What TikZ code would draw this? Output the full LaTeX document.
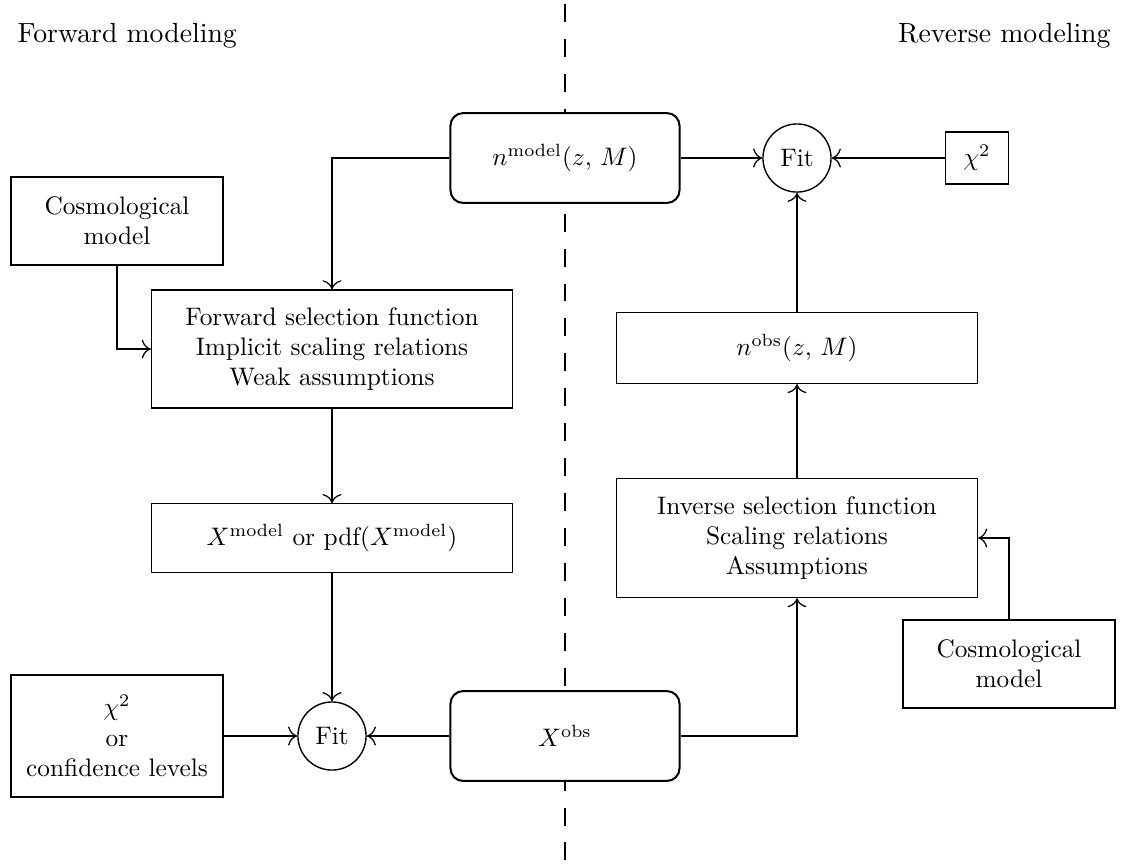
\documentclass[tikz,border=0pt]{standalone}
\usetikzlibrary{arrows.meta}
\begin{document}
\begin{tikzpicture}[x=0.395pt,y=-0.395pt,
  box/.style={draw, line width=0.5pt, fill=white, align=center, inner sep=2pt},
  wide/.style={minimum width=142.6pt},
  rbox/.style={draw, line width=0.8pt, rounded corners=5pt, fill=white, minimum width=90.5pt, minimum height=35.5pt},
  fitc/.style={draw, circle, line width=0.55pt, fill=white, minimum size=26.9pt, inner sep=0pt},
  cbox/.style={box, minimum width=83.7pt, minimum height=34.8pt},
  arr/.style={-{Computer Modern Rightarrow[length=3.6pt,width=7.5pt]}, line width=0.5pt},
  title/.style={inner sep=0pt, font=\fontsize{10.95}{13}\selectfont}]
\useasboundingbox (0,0) rectangle (1121,863);
% divider
\coordinate (dtop) at (565,4);
\coordinate (dbot) at (565,863);
\draw[line width=0.45pt, dash pattern=on 7.1pt off 6.7pt] (dtop) -- (dbot);
% titles
\node[title, anchor=base west] (tl) at (17,42) {Forward modeling};
\node[title, anchor=base east] (tr) at (1111,42) {Reverse modeling};
% nodes
\node[rbox] (nmodel) at (565,158) {$n^{\mathrm{model}}(z,\,M)$};
\node[fitc] (fit1) at (797,158) {Fit};
\node[box, minimum width=24.9pt, minimum height=20.5pt] (chi1) at (977,158) {$\chi^2$};
\node[box, wide, minimum height=28pt] (nobs) at (797,348) {$n^{\mathrm{obs}}(z,\,M)$};
\node[box, wide, minimum height=47pt] (inv) at (797,538) {Inverse selection function\\Scaling relations\\Assumptions};
\node[cbox] (cosR) at (1009,664) {Cosmological\\model};
\node[rbox] (xobs) at (565,736) {$X^{\mathrm{obs}}$};
\node[fitc] (fit2) at (332,736) {Fit};
\node[box, minimum width=83.7pt, minimum height=48.2pt] (conf) at (117,736) {$\chi^2$\\or\\confidence levels};
\node[box, wide, minimum height=27pt] (xmod) at (332,538) {$X^{\mathrm{model}}$ or pdf($X^{\mathrm{model}}$)};
\node[box, wide, minimum height=46.6pt] (fwd) at (332,349) {Forward selection function\\Implicit scaling relations\\Weak assumptions};
\node[cbox] (cosL) at (117,221) {Cosmological\\model};
% connectors
\draw[arr] (nmodel.west) -| (fwd.north);
\draw[arr] (nmodel) -- (fit1);
\draw[arr] (chi1) -- (fit1);
\draw[arr] (nobs) -- (fit1);
\draw[arr] (inv) -- (nobs);
\draw[arr] (xobs.east) -| (inv.south);
\draw[arr] (cosR.north) |- (inv.east);
\draw[arr] (xobs) -- (fit2);
\draw[arr] (conf) -- (fit2);
\draw[arr] (xmod) -- (fit2);
\draw[arr] (fwd) -- (xmod);
\draw[arr] (cosL.south) |- (fwd.west);
\end{tikzpicture}
\end{document}
